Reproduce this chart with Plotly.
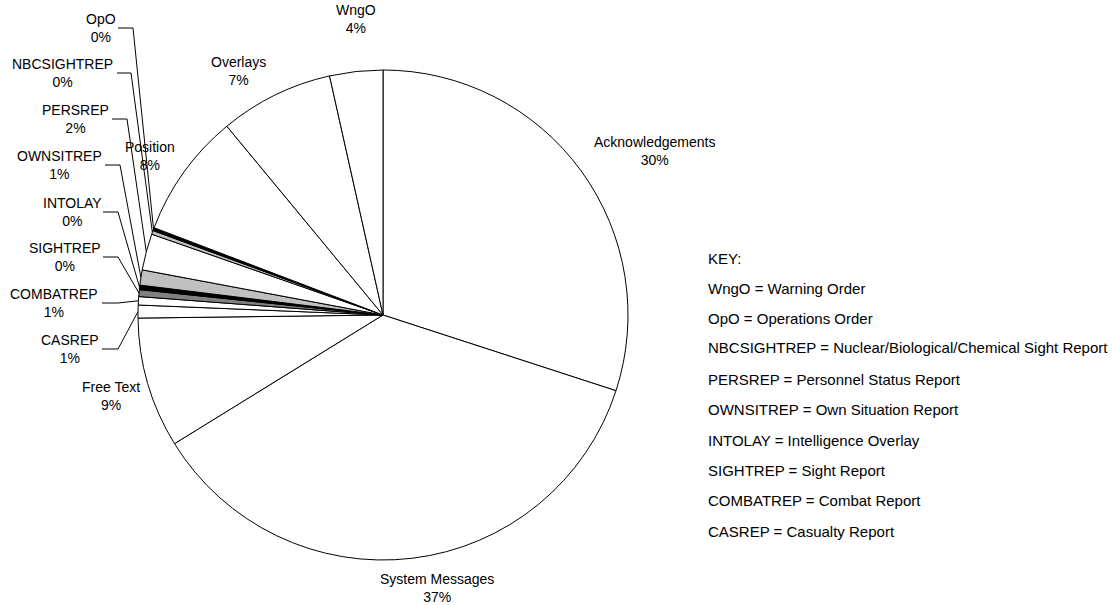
import math
import plotly.graph_objects as go

# ---------------- data ----------------
categories = ["Acknowledgements", "System Messages", "Free Text", "CASREP", "COMBATREP",
              "SIGHTREP", "INTOLAY", "OWNSITREP", "PERSREP", "NBCSIGHTREP", "OpO",
              "Position", "Overlays", "WngO"]
values = [30.0, 36.2, 8.6, 0.85, 0.55, 0.45, 0.3, 1.0, 2.4, 0.25, 0.2, 8.2, 7.5, 3.5]
pct_labels = ["30%", "37%", "9%", "1%", "1%", "0%", "0%", "1%", "2%", "0%", "0%", "8%", "7%", "4%"]
key_lines = ["KEY:",
             "WngO = Warning Order",
             "OpO = Operations Order",
             "NBCSIGHTREP = Nuclear/Biological/Chemical Sight Report",
             "PERSREP = Personnel Status Report",
             "OWNSITREP = Own Situation Report",
             "INTOLAY = Intelligence Overlay",
             "SIGHTREP = Sight Report",
             "COMBATREP = Combat Report",
             "CASREP = Casualty Report"]

# ---------------- styles / layout ----------------
slice_colors = ["#ffffff", "#ffffff", "#ffffff", "#ffffff", "#ffffff",
                "#808080", "#000000", "#c0c0c0", "#ffffff", "#c0c0c0", "#000000",
                "#ffffff", "#ffffff", "#ffffff"]
W, H = 1112, 605
CX, CY, R = 383, 315, 245
LABEL_FONT = dict(family="Liberation Sans, Arial, sans-serif", size=14, color="black")
KEY_FONT = dict(family="Liberation Sans, Arial, sans-serif", size=15, color="black")

# label block centres (pixels) and leader-line elbows for the small slices
label_pos = {
    "Acknowledgements": (654, 151), "System Messages": (437, 588), "Free Text": (111, 396),
    "CASREP": (70, 349), "COMBATREP": (54, 303), "SIGHTREP": (65, 257), "INTOLAY": (72, 212),
    "OWNSITREP": (59, 165), "PERSREP": (75, 119), "NBCSIGHTREP": (62, 73), "OpO": (101, 28),
    "Position": (150, 156), "Overlays": (238, 71), "WngO": (356, 19),
}
leader_elbow = {
    "CASREP": (102, 118), "COMBATREP": (102, 118), "SIGHTREP": (103, 118), "INTOLAY": (103, 118),
    "OWNSITREP": (105, 120), "PERSREP": (112, 127), "NBCSIGHTREP": (117, 131), "OpO": (118, 133),
}
key_x = 706
key_y = [258, 288, 318, 348, 379, 409, 440, 470, 500, 531]


def px(x):
    return x / W


def py(y):
    return 1 - y / H


fig = go.Figure(go.Pie(
    labels=categories, values=values, sort=False, direction="clockwise", rotation=0,
    marker=dict(colors=slice_colors, line=dict(color="black", width=1)),
    textinfo="none", hoverinfo="label+percent", showlegend=False,
    domain=dict(x=[px(CX - R), px(CX + R)], y=[py(CY + R), py(CY - R)]),
))

annotations = []
shapes = []
total = sum(values)
cum = 0.0
for cat, v, pct in zip(categories, values, pct_labels):
    mid = (cum + v / 2) / total * 2 * math.pi
    cum += v
    lx, ly = label_pos[cat]
    annotations.append(dict(
        x=px(lx), y=py(ly), xref="paper", yref="paper", text=f"{cat}<br>{pct}",
        showarrow=False, xanchor="center", yanchor="middle", align="center", font=LABEL_FONT,
    ))
    if cat in leader_elbow:
        ex = CX + R * math.sin(mid)
        ey = CY - R * math.cos(mid)
        x0, x1 = leader_elbow[cat]
        path = f"M {px(x0)} {py(ly)} L {px(x1)} {py(ly)} L {px(ex)} {py(ey)}"
        shapes.append(dict(type="path", path=path, xref="paper", yref="paper",
                           line=dict(color="black", width=1)))

for txt, y in zip(key_lines, key_y):
    annotations.append(dict(
        x=px(key_x), y=py(y), xref="paper", yref="paper", text=txt, showarrow=False,
        xanchor="left", yanchor="middle", align="left", font=KEY_FONT,
    ))

fig.update_layout(
    width=W, height=H, margin=dict(l=0, r=0, t=0, b=0),
    paper_bgcolor="white", plot_bgcolor="white",
    annotations=annotations, shapes=shapes,
)

fig.write_html("out.html", config={"displayModeBar": False},
               post_script="document.body.style.margin='0';")
